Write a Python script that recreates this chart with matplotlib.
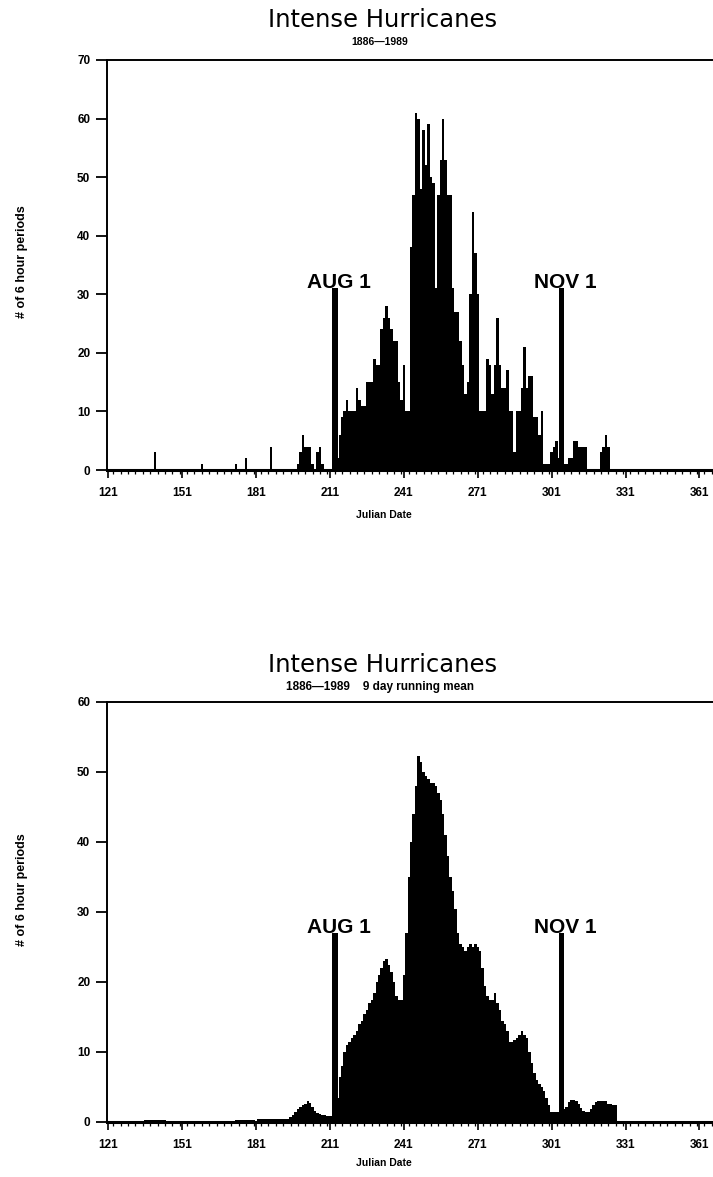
import matplotlib
matplotlib.use("Agg")
import matplotlib.pyplot as plt
from matplotlib.ticker import MultipleLocator, FixedLocator

# ---------------- data ----------------
# daily counts of 6-hour periods (raw), Julian days
early_days = [140, 159, 173, 177, 187]
early_counts = [3, 1, 1, 2, 4]

season_start = 198
season_counts = [
    1, 3, 6, 4, 4, 4, 1, 0, 3, 4, 1, 0, 0, 0, 0, 0, 2, 6, 9, 10,          # 198-217
    12, 10, 10, 10, 14, 12, 11, 11, 15, 15, 15, 19, 18, 18, 24, 26, 28, 26, 24, 22,  # 218-237
    22, 15, 12, 18, 10, 10, 38, 47, 61, 60, 48, 58, 52, 59, 50, 49, 31, 47, 53, 60,  # 238-257
    53, 47, 47, 31, 27, 27, 22, 18, 13, 15, 30, 44, 37, 30, 10, 10, 10, 19, 18, 13,  # 258-277
    18, 26, 18, 14, 14, 17, 10, 10, 3, 10, 10, 14, 21, 14, 16, 16, 9, 9, 6, 10,      # 278-297
    1, 1, 1, 3, 4, 5, 2, 0, 1, 1, 2, 2, 5, 5, 4, 4, 4, 4, 0, 0,                      # 298-317
    0, 0, 0, 3, 4, 6, 4, 0,                                                          # 318-325
]

# 9 day running mean, Julian days 121-327
mean_start = 121
mean_values = [
    0, 0, 0, 0, 0, 0, 0, 0, 0, 0, 0, 0, 0, 0, 0,                                      # 121-135
    0.3, 0.3, 0.3, 0.3, 0.3, 0.3, 0.3, 0.3, 0.3,                                      # 136-144
    0, 0, 0, 0, 0, 0, 0, 0, 0, 0,                                                     # 145-154
    0.1, 0.1, 0.1, 0.1, 0.1, 0.1, 0.1, 0.1, 0.1,                                      # 155-163
    0, 0, 0, 0, 0,                                                                    # 164-168
    0.2, 0.2, 0.2, 0.2, 0.3, 0.3, 0.3, 0.3, 0.3, 0.3, 0.3, 0.3, 0.2,                  # 169-181
    0.4, 0.5, 0.5, 0.5, 0.5, 0.5, 0.5, 0.5, 0.5, 0.5, 0.5, 0.5, 0.5,                  # 182-194
    0.7, 1.0, 1.5, 1.8, 2.2, 2.4, 2.6, 3.0, 2.7, 2.2, 1.6, 1.3, 1.2, 1.0, 1.0, 0.9,  # 195-210
    0.9, 0.8, 1.0,                                                                    # 211-213
    3.5, 6.5, 8.0, 10.0, 11.0, 11.5, 12.0, 12.5, 13.0, 14.0, 14.5, 15.5, 16.0,       # 214-226
    17.0, 17.5, 18.5, 20.0, 21.0, 22.0, 23.0, 23.3, 22.5, 21.5, 20.0, 18.0, 17.5,    # 227-239
    17.5, 21.0, 27.0, 35.0, 40.0, 44.0, 48.0, 52.3, 51.5, 50.0, 49.5, 49.0, 48.5,    # 240-252
    48.5, 48.0, 47.0, 46.0, 44.0, 41.0, 38.0, 35.0, 33.0, 30.5, 27.0, 25.5, 25.0,    # 253-265
    24.5, 25.0, 25.5, 25.0, 25.5, 25.0, 24.5, 22.0, 19.5, 18.0, 17.5, 17.5, 18.5,    # 266-278
    17.0, 16.0, 14.5, 14.0, 13.0, 11.5, 11.5, 11.7, 12.0, 12.5, 13.0, 12.5, 12.0,    # 279-291
    10.0, 8.5, 7.0, 6.0, 5.5, 5.0, 4.5, 3.5, 2.5, 1.5, 1.5, 1.5, 1.5, 1.5,           # 292-305
    1.8, 2.2, 2.8, 3.2, 3.2, 3.0, 2.6, 2.0, 1.6, 1.5, 1.5, 1.8, 2.4, 2.8, 3.0,       # 306-320
    3.0, 3.0, 3.0, 2.6, 2.6, 2.5, 2.5,                                                # 321-327
]

marker_days = [213, 305]
marker_labels = ["AUG 1", "NOV 1"]
marker_height_raw = 31
marker_height_mean = 27

xtick_values = [121, 151, 181, 211, 241, 271, 301, 331, 361]

title = "Intense Hurricanes"
subtitle_raw = "1886\u20141989"
subtitle_mean = "1886\u20141989    9 day running mean"
ylabel = "# of 6 hour periods"
xlabel = "Julian Date"

# ---------------- figure ----------------
W, H = 713, 1177
fig = plt.figure(figsize=(W / 100, H / 100), dpi=100)
fig.patch.set_facecolor("white")

BOLD = ["Liberation Sans", "DejaVu Sans"]


def fx(px):
    return px / W


def fy(py):
    return 1 - py / H


def make_axes(top_px, bottom_px):
    left, right = 107, 713
    return fig.add_axes([fx(left), fy(bottom_px), (right - left) / W, (bottom_px - top_px) / H])


def style_axes(ax, ymax):
    ax.set_xlim(120.5, 366.5)
    ax.set_ylim(0, ymax)
    ax.spines["right"].set_visible(False)
    for s in ("left", "top"):
        ax.spines[s].set_linewidth(1.4)
    ax.spines["bottom"].set_linewidth(2.2)
    ax.xaxis.set_major_locator(FixedLocator(xtick_values))
    ax.xaxis.set_minor_locator(MultipleLocator(3))
    ax.yaxis.set_major_locator(MultipleLocator(10))
    ax.tick_params(axis="x", which="major", direction="out", length=6, width=1.2,
                   pad=6, top=False)
    ax.tick_params(axis="x", which="minor", direction="out", length=3, width=0.9, top=False)
    ax.tick_params(axis="y", which="major", direction="out", length=8, width=1.3,
                   pad=4, right=False)
    for lab in ax.get_xticklabels() + ax.get_yticklabels():
        lab.set_fontfamily(BOLD)
        lab.set_fontweight("bold")
        lab.set_fontsize(8.5)


def add_markers(ax, height):
    ax.bar(marker_days, [height] * len(marker_days), width=2.2, color="black",
           align="center", zorder=4)
    for d, lab in zip(marker_days, marker_labels):
        ax.text(d + 1.5, height, lab, ha="center", va="baseline",
                fontfamily=BOLD, fontweight="bold", fontsize=15, zorder=5)


def add_texts(title_y, sub_y, sub_text, sub_size, xlabel_y, ylabel_y):
    fig.text(fx(383), fy(title_y), title, ha="center", va="center",
             fontfamily=["DejaVu Sans"], fontweight="normal", fontsize=17.5)
    fig.text(fx(380), fy(sub_y), sub_text, ha="center", va="center",
             fontfamily=BOLD, fontweight="bold", fontsize=sub_size)
    fig.text(fx(384), fy(xlabel_y), xlabel, ha="center", va="center",
             fontfamily=BOLD, fontweight="bold", fontsize=7.5)
    fig.text(fx(22), fy(ylabel_y), ylabel, ha="center", va="center", rotation=90,
             fontfamily=BOLD, fontweight="bold", fontsize=9)


# ---- top: raw counts ----
ax1 = make_axes(60, 470)
season_days = list(range(season_start, season_start + len(season_counts)))
ax1.bar(early_days, early_counts, width=0.9, color="black", align="center", zorder=3)
ax1.bar(season_days, season_counts, width=1.0, color="black", align="center",
        linewidth=0, zorder=3)
add_markers(ax1, marker_height_raw)
style_axes(ax1, 70)
add_texts(20, 42, subtitle_raw, 7.5, 515, 262)

# ---- bottom: 9 day running mean ----
ax2 = make_axes(702, 1122)
mean_days = list(range(mean_start, mean_start + len(mean_values)))
ax2.bar(mean_days, mean_values, width=1.0, color="black", align="center",
        linewidth=0, zorder=3)
add_markers(ax2, marker_height_mean)
style_axes(ax2, 60)
add_texts(665, 687, subtitle_mean, 8.5, 1163, 890)

fig.savefig("out.png", dpi=100, facecolor="white")
